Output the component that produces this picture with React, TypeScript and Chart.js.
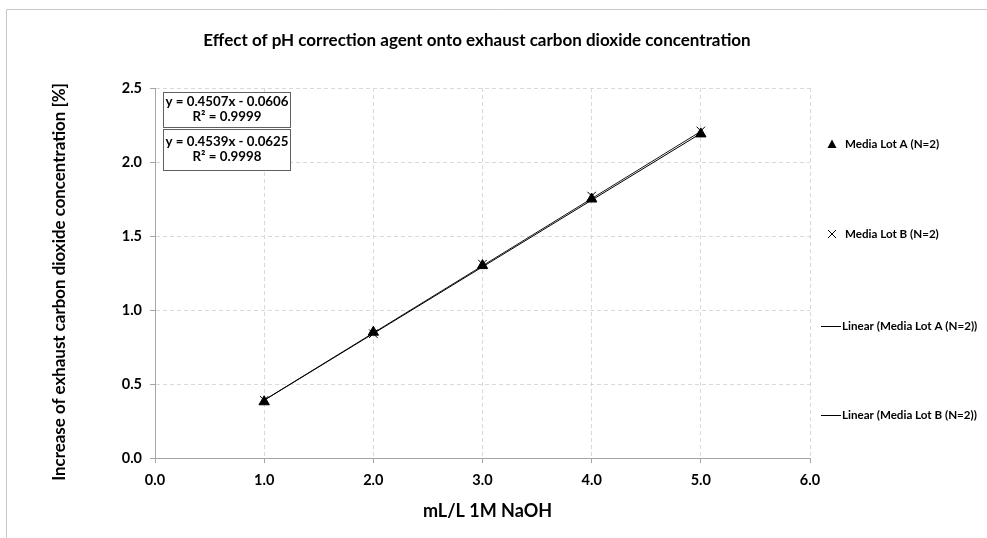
import React, { useEffect, useRef } from "react";
import { Chart, registerables } from "chart.js";

Chart.register(...registerables);

const doseX = [1, 2, 3, 4, 5];
const lotA = [0.38, 0.85, 1.3, 1.75, 2.19];
const lotB = [0.39, 0.84, 1.31, 1.77, 2.21];
const trendX = [1, 5];
const trendA = [0.39, 2.193];
const trendB = [0.391, 2.207];
const xTicks = [0, 1, 2, 3, 4, 5, 6];
const yTicks = [0, 0.5, 1, 1.5, 2, 2.5];
const titleText = "Effect of pH correction agent onto exhaust carbon dioxide concentration";
const xTitle = "mL/L 1M NaOH";
const yTitle = "Increase of exhaust carbon dioxide concentration [%]";
const eqA = ["y = 0.4507x - 0.0606", "R² = 0.9999"];
const eqB = ["y = 0.4539x - 0.0625", "R² = 0.9998"];
const legendLabels = [
  "Media Lot A (N=2)",
  "Media Lot B (N=2)",
  "Linear (Media Lot A (N=2))",
  "Linear (Media Lot B (N=2))",
];

const FONT = "Lato, 'Open Sans', sans-serif";

const decorPlugin = {
  id: "decor",
  afterDraw(chart: any) {
    const ctx = chart.ctx as CanvasRenderingContext2D;
    const area = chart.chartArea;
    ctx.save();
    // outer frame
    ctx.strokeStyle = "#c8c8c8";
    ctx.lineWidth = 1;
    ctx.beginPath();
    ctx.moveTo(6.5, 538);
    ctx.lineTo(6.5, 9.5);
    ctx.lineTo(987, 9.5);
    ctx.stroke();

    // title
    ctx.fillStyle = "#000";
    ctx.textAlign = "center";
    ctx.textBaseline = "middle";
    ctx.font = `bold 17px ${FONT}`;
    ctx.fillText(titleText, 477, 41);

    // axis titles
    ctx.font = `bold 18px ${FONT}`;
    ctx.fillText(xTitle, (area.left + area.right) / 2 + 5, 511);
    ctx.save();
    ctx.font = `bold 16.9px ${FONT}`;
    ctx.translate(60, 282);
    ctx.rotate(-Math.PI / 2);
    ctx.fillText(yTitle, 0, 0);
    ctx.restore();

    // equation boxes
    const boxes = [
      { lines: eqA, y: 92, h: 35 },
      { lines: eqB, y: 129, h: 41 },
    ];
    ctx.font = `bold 13.3px ${FONT}`;
    for (const b of boxes) {
      ctx.fillStyle = "#fff";
      ctx.fillRect(163, b.y, 127, b.h);
      ctx.strokeStyle = "#606060";
      ctx.lineWidth = 1;
      ctx.strokeRect(163.5, b.y + 0.5, 127, b.h);
      ctx.fillStyle = "#000";
      ctx.textAlign = "center";
      const cy = b.y + b.h / 2;
      ctx.fillText(b.lines[0], 227, cy - 7.5);
      ctx.fillText(b.lines[1], 227, cy + 7.5);
    }

    // legend
    ctx.font = `bold 11.6px ${FONT}`;
    ctx.textAlign = "left";
    ctx.fillStyle = "#000";
    ctx.strokeStyle = "#000";
    // triangle
    ctx.beginPath();
    ctx.moveTo(832, 139.5);
    ctx.lineTo(836.5, 148);
    ctx.lineTo(827.5, 148);
    ctx.closePath();
    ctx.fill();
    ctx.fillText(legendLabels[0], 845, 144);
    // cross
    ctx.lineWidth = 1;
    ctx.beginPath();
    ctx.moveTo(828, 230);
    ctx.lineTo(836, 238);
    ctx.moveTo(836, 230);
    ctx.lineTo(828, 238);
    ctx.stroke();
    ctx.fillText(legendLabels[1], 845, 234);
    // lines
    ctx.beginPath();
    ctx.moveTo(821, 326.5);
    ctx.lineTo(841, 326.5);
    ctx.moveTo(821, 415.5);
    ctx.lineTo(841, 415.5);
    ctx.stroke();
    ctx.fillText(legendLabels[2], 842, 326);
    ctx.fillText(legendLabels[3], 842, 415);
    ctx.restore();
  },
};

export default function App() {
  const ref = useRef<HTMLCanvasElement>(null);
  useEffect(() => {
    if (!ref.current) return;
    const toXY = (xs: number[], ys: number[]) => xs.map((x, i) => ({ x, y: ys[i] }));
    const chart = new Chart(ref.current, {
      type: "scatter",
      data: {
        datasets: [
          {
            label: legendLabels[0],
            data: toXY(doseX, lotA),
            pointStyle: "triangle",
            pointRadius: 6,
            backgroundColor: "#000",
            borderColor: "#000",
            borderWidth: 1,
            showLine: false,
          },
          {
            label: legendLabels[1],
            data: toXY(doseX, lotB),
            pointStyle: "crossRot",
            pointRadius: 6,
            backgroundColor: "#000",
            borderColor: "#000",
            borderWidth: 1,
            showLine: false,
          },
          {
            label: legendLabels[2],
            data: toXY(trendX, trendA),
            showLine: true,
            pointRadius: 0,
            borderColor: "#000",
            borderWidth: 1,
          },
          {
            label: legendLabels[3],
            data: toXY(trendX, trendB),
            showLine: true,
            pointRadius: 0,
            borderColor: "#1a1a1a",
            borderWidth: 1,
          },
        ],
      },
      options: {
        animation: false,
        responsive: false,
        maintainAspectRatio: false,
        layout: { padding: { left: 0, top: 88, right: 987 - 810, bottom: 0 } },
        plugins: { legend: { display: false }, tooltip: { enabled: false } },
        scales: {
          x: {
            type: "linear",
            min: xTicks[0],
            max: xTicks[xTicks.length - 1],
            afterFit: (s: any) => {
              s.height = 538 - 458;
            },
            afterBuildTicks: (s: any) => {
              s.ticks = xTicks.map((v) => ({ value: v }));
            },
            ticks: {
              padding: 9,
              color: "#000",
              font: { family: FONT, size: 14.5, weight: "bold" },
              callback: (v: any) => Number(v).toFixed(1),
            },
            grid: { color: "#d9d9d9", tickColor: "#a6a6a6", tickLength: 5, lineWidth: 1 },
            border: { display: true, color: "#a6a6a6", dash: [4, 3] },
          },
          y: {
            type: "linear",
            min: yTicks[0],
            max: yTicks[yTicks.length - 1],
            afterFit: (s: any) => {
              s.width = 155;
            },
            afterBuildTicks: (s: any) => {
              s.ticks = yTicks.map((v) => ({ value: v }));
            },
            ticks: {
              padding: 8,
              color: "#000",
              font: { family: FONT, size: 14.5, weight: "bold" },
              callback: (v: any) => Number(v).toFixed(1),
            },
            grid: { color: "#d9d9d9", tickColor: "#a6a6a6", tickLength: 5, lineWidth: 1 },
            border: { display: true, color: "#a6a6a6", dash: [4, 3] },
          },
        },
      },
      plugins: [decorPlugin],
    } as any);
    return () => chart.destroy();
  }, []);
  return (
    <div style={{ position: "fixed", left: 0, top: 0, width: 987, height: 538, background: "#fff" }}>
      <canvas ref={ref} width={987} height={538} style={{ width: 987, height: 538, display: "block" }} />
    </div>
  );
}
